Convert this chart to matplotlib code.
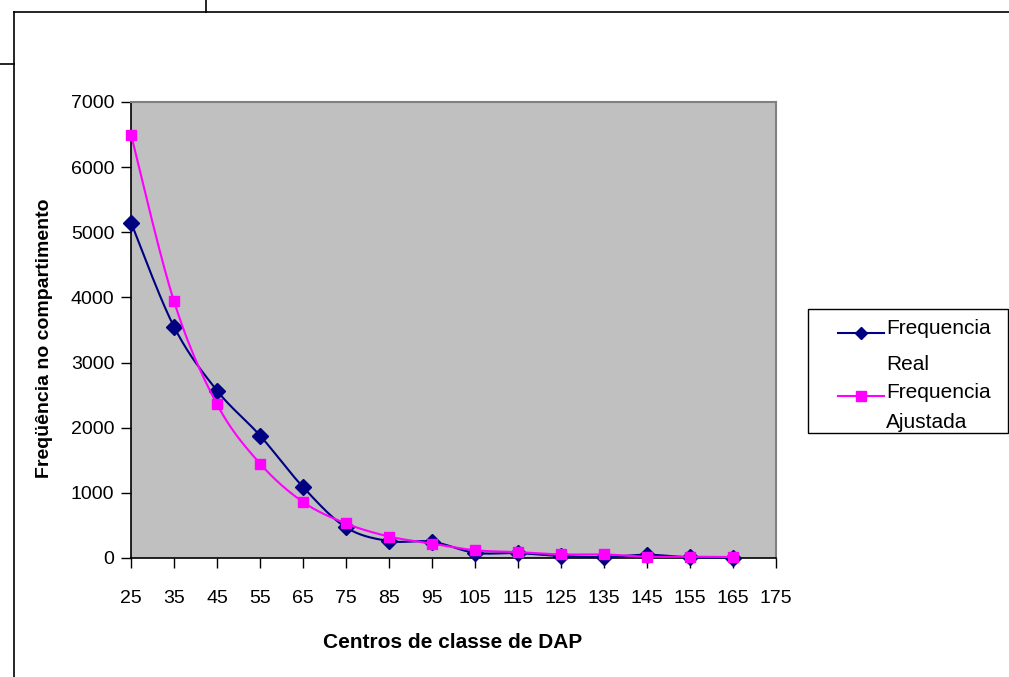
import numpy as np
import matplotlib
matplotlib.use("Agg")
import matplotlib.pyplot as plt
from matplotlib.lines import Line2D
from matplotlib.patches import Rectangle

# ---- data ----
centers = [25, 35, 45, 55, 65, 75, 85, 95, 105, 115, 125, 135, 145, 155, 165]
freq_real = [5150, 3550, 2570, 1880, 1090, 470, 260, 250, 80, 75, 30, 15, 50, 10, 5]
freq_ajust = [6500, 3940, 2360, 1450, 860, 530, 330, 220, 120, 90, 55, 55, 20, 20, 15]
x_ticks = [25, 35, 45, 55, 65, 75, 85, 95, 105, 115, 125, 135, 145, 155, 165, 175]
y_ticks = [0, 1000, 2000, 3000, 4000, 5000, 6000, 7000]
label_real = ["Frequencia", "Real"]
label_ajust = ["Frequencia", "Ajustada"]
xlabel = "Centros de classe de DAP"
ylabel = "Freqüência no compartimento"

narrow = ["Liberation Sans Narrow", "Liberation Sans", "DejaVu Sans"]
plt.rcParams['font.family'] = narrow


def catmull_rom(xs, ys, n=20):
    xs = np.asarray(xs, float)
    ys = np.asarray(ys, float)
    P = np.column_stack([xs, ys])
    P = np.vstack([P[0], P, P[-1]])
    out = []
    for i in range(1, len(P) - 2):
        p0, p1, p2, p3 = P[i - 1], P[i], P[i + 1], P[i + 2]
        t = np.linspace(0, 1, n, endpoint=False)[:, None]
        seg = 0.5 * ((2 * p1) + (-p0 + p2) * t + (2 * p0 - 5 * p1 + 4 * p2 - p3) * t ** 2
                     + (-p0 + 3 * p1 - 3 * p2 + p3) * t ** 3)
        out.append(seg)
    out.append(P[-2][None, :])
    out = np.vstack(out)
    return out[:, 0], out[:, 1]


W, H = 1009, 677
fig = plt.figure(figsize=(W / 100, H / 100), dpi=100)
fig.patch.set_facecolor("white")

L, R, T, B = 131, 776, 102, 558
ax = fig.add_axes([L / W, 1 - B / H, (R - L) / W, (B - T) / H])
ax.set_facecolor("#C0C0C0")

navy = "#000080"
magenta = "#FF00FF"

sx, sy = catmull_rom(centers, freq_real)
ax.plot(sx, sy, color=navy, lw=1.5, zorder=3, clip_on=False)
ax.plot(centers, freq_real, linestyle="none", marker="D", ms=8, color=navy, zorder=4,
        clip_on=False)
sx2, sy2 = catmull_rom(centers, freq_ajust)
ax.plot(sx2, sy2, color=magenta, lw=1.5, zorder=5, clip_on=False)
ax.plot(centers, freq_ajust, linestyle="none", marker="s", ms=7.5, color=magenta, zorder=6,
        clip_on=False)

ax.set_xlim(25, 175)
ax.set_ylim(0, 7000)
ax.set_xticks(x_ticks)
ax.set_xticklabels([str(v) for v in x_ticks])
ax.set_yticks(y_ticks)
ax.set_yticklabels([str(v) for v in y_ticks])
ax.tick_params(axis="both", direction="out", length=7, width=1, color="black",
               labelsize=14, colors="black")
ax.tick_params(axis="x", pad=16)
ax.tick_params(axis="y", pad=5)
for s in ["left", "bottom"]:
    ax.spines[s].set_color("black")
    ax.spines[s].set_linewidth(1.2)
for s in ["top", "right"]:
    ax.spines[s].set_color("#808080")
    ax.spines[s].set_linewidth(1.5)

fig.text(453 / W, 1 - 643 / H, xlabel, ha="center", va="center", fontsize=15,
         fontweight="bold", family=narrow)
fig.text(45 / W, 1 - 338 / H, ylabel, ha="center", va="center", rotation=90,
         fontsize=14, fontweight="bold", family=["Liberation Sans", "DejaVu Sans"])

# ---- legend (built by hand to follow the Excel layout) ----
def fx(px):
    return px / W


def fy(py):
    return 1 - py / H


fig.add_artist(Rectangle((fx(808), fy(433)), fx(1008) - fx(808), fy(309) - fy(433),
                         transform=fig.transFigure, facecolor="white",
                         edgecolor="black", lw=1.0))
for color, marker, labels, hy, ty in [
        (navy, "D", label_real, 333, (329, 364)),
        (magenta, "s", label_ajust, 396, (392, 422))]:
    fig.add_artist(Line2D([fx(838), fx(884)], [fy(hy), fy(hy)], transform=fig.transFigure,
                          color=color, lw=1.5))
    fig.add_artist(Line2D([fx(861)], [fy(hy)], transform=fig.transFigure, color=color,
                          marker=marker, ms=6.5, linestyle="none"))
    for lab, yy in zip(labels, ty):
        fig.text(fx(886), fy(yy), lab, ha="left", va="center", fontsize=15, family=narrow)

# outer frame lines (screenshot borders)
def fline(x0, y0, x1, y1):
    fig.add_artist(Line2D([fx(x0), fx(x1)], [fy(y0), fy(y1)],
                          transform=fig.transFigure, color="black", lw=1.2))

fline(14, 12, 14, H)
fline(14, 12, W, 12)
fline(206, 0, 206, 12)
fline(0, 64, 14, 64)

fig.savefig("out.png", dpi=100)
